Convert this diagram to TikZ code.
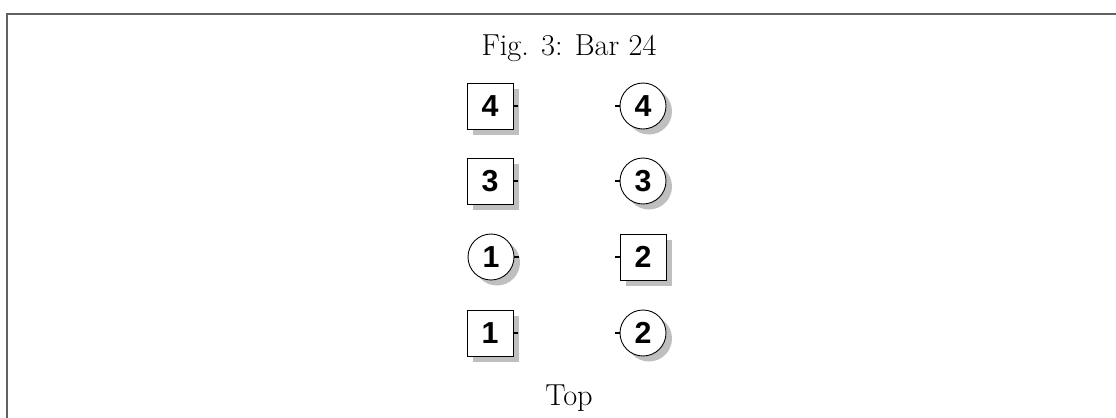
\documentclass[tikz,border=0pt]{standalone}
\usepackage{fontspec}
\newfontfamily\numfont{Liberation Sans}
\usetikzlibrary{shadows}
\begin{document}
\begin{tikzpicture}[x=0.02cm,y=-0.02cm,
  framestyle/.style={draw=black!62,line width=1.1pt},
  shad/.style={drop shadow={shadow xshift=0.12cm,shadow yshift=-0.11cm,fill=black!25,opacity=1}},
  sqbox/.style={draw=black,line width=0.5pt,fill=white,shad,minimum size=0.92cm,inner sep=0pt,font=\numfont\bfseries\LARGE},
  cirbox/.style={circle,draw=black,line width=0.5pt,fill=white,shad,minimum size=0.92cm,inner sep=0pt,font=\numfont\bfseries\LARGE},
  tick/.style={draw=black,line width=0.6pt},
  lbl/.style={inner sep=0pt,font=\LARGE}]
\useasboundingbox (0,0) rectangle (1116,417);
\draw[framestyle] (7,420) -- (7,14) -- (1120,14);
\node[lbl] (title) at (569,48) {Fig. 3: Bar 24};
\node[lbl,anchor=base] (top) at (569,405) {Top};
% left column
\node[sqbox] (l4) at (490,106) {4};
\node[sqbox] (l3) at (490,181) {3};
\node[cirbox] (l1c) at (491,257) {1};
\node[sqbox] (l1) at (490,333) {1};
% right column
\node[cirbox] (r4) at (643,106) {4};
\node[cirbox] (r3) at (643,181) {3};
\node[sqbox] (r2s) at (643,257) {2};
\node[cirbox] (r2) at (643,333) {2};
% ticks
\foreach \n in {l4,l3,l1c,l1}{\draw[tick] (\n.east) -- ++(5,0);}
\foreach \n in {r4,r3,r2s,r2}{\draw[tick] (\n.west) -- ++(-5,0);}
\end{tikzpicture}
\end{document}
